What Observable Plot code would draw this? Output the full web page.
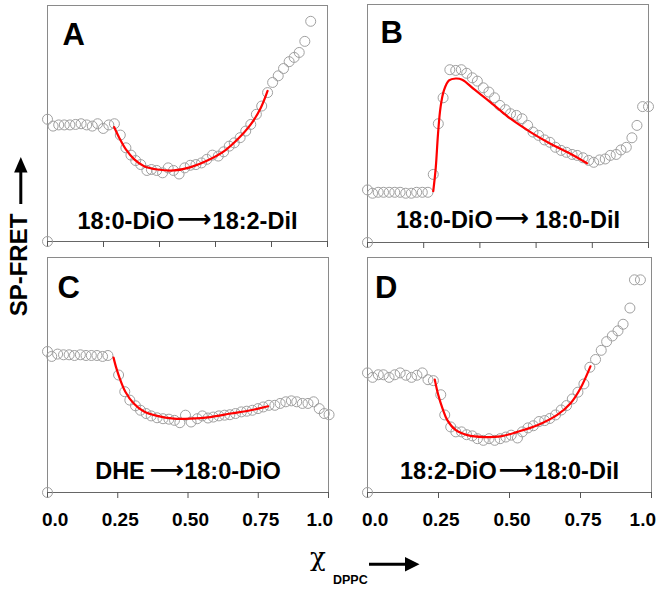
<!DOCTYPE html>
<html><head><meta charset="utf-8">
<script src="https://cdn.jsdelivr.net/npm/d3@7"></script>
<script src="https://cdn.jsdelivr.net/npm/@observablehq/plot@0.6"></script>
<style>
body{margin:0;background:#fff}
#wrap{position:relative;width:657px;height:589px;font-family:"Liberation Sans",Arial,sans-serif}
#wrap > svg{position:absolute;left:0;top:0}
</style></head><body><div id="wrap"></div>
<script>
// ---- data (x = χ DPPC, y = SP-FRET, arbitrary units scaled 0..1 per panel) ----
const pointsA = [[0,0],[0,0.518],[0.020,0.489],[0.040,0.494],[0.060,0.494],[0.080,0.494],[0.100,0.496],[0.120,0.499],[0.140,0.494],[0.160,0.489],[0.179,0.499],[0.199,0.479],[0.219,0.494],[0.239,0.499],[0.260,0.451],[0.280,0.397],[0.298,0.366],[0.315,0.343],[0.333,0.326],[0.355,0.301],[0.371,0.305],[0.390,0.301],[0.411,0.291],[0.431,0.312],[0.450,0.301],[0.470,0.286],[0.490,0.312],[0.510,0.323],[0.530,0.326],[0.550,0.333],[0.569,0.348],[0.589,0.366],[0.610,0.362],[0.629,0.380],[0.649,0.404],[0.667,0.418],[0.688,0.440],[0.708,0.468],[0.726,0.496],[0.746,0.539],[0.765,0.574],[0.786,0.631],[0.804,0.674],[0.824,0.702],[0.843,0.733],[0.863,0.762],[0.881,0.780],[0.899,0.801],[0.919,0.848],[0.940,0.933]];
const fitA = [[0.238,0.485],[0.256,0.440],[0.280,0.390],[0.310,0.348],[0.345,0.319],[0.393,0.305],[0.452,0.301],[0.512,0.315],[0.571,0.343],[0.631,0.383],[0.679,0.433],[0.726,0.496],[0.762,0.567],[0.786,0.638]];

const pointsB = [[0,0],[0,0.221],[0.018,0.207],[0.038,0.211],[0.057,0.211],[0.077,0.211],[0.097,0.211],[0.116,0.211],[0.136,0.207],[0.156,0.207],[0.175,0.211],[0.195,0.211],[0.215,0.211],[0.234,0.286],[0.252,0.499],[0.269,0.608],[0.293,0.726],[0.314,0.723],[0.334,0.726],[0.353,0.711],[0.373,0.692],[0.391,0.678],[0.412,0.650],[0.432,0.632],[0.452,0.608],[0.471,0.576],[0.491,0.558],[0.509,0.541],[0.530,0.534],[0.550,0.520],[0.570,0.492],[0.589,0.464],[0.609,0.450],[0.630,0.431],[0.649,0.421],[0.669,0.400],[0.689,0.387],[0.708,0.379],[0.728,0.370],[0.746,0.366],[0.767,0.356],[0.787,0.345],[0.805,0.337],[0.826,0.347],[0.846,0.351],[0.864,0.366],[0.885,0.370],[0.902,0.389],[0.921,0.400],[0.941,0.440],[0.959,0.492],[0.979,0.571],[1.000,0.571]];
const fitB = [[0.234,0.216],[0.243,0.316],[0.251,0.457],[0.260,0.569],[0.272,0.639],[0.290,0.681],[0.314,0.689],[0.337,0.684],[0.379,0.644],[0.438,0.589],[0.509,0.520],[0.580,0.464],[0.651,0.415],[0.722,0.373],[0.781,0.333]];

const pointsC = [[0,0],[0,0.600],[0.015,0.579],[0.036,0.589],[0.057,0.586],[0.077,0.586],[0.096,0.583],[0.117,0.586],[0.137,0.583],[0.156,0.583],[0.176,0.583],[0.196,0.579],[0.215,0.583],[0.253,0.500],[0.275,0.429],[0.293,0.393],[0.313,0.369],[0.331,0.350],[0.351,0.336],[0.369,0.326],[0.390,0.318],[0.411,0.314],[0.432,0.312],[0.452,0.307],[0.471,0.297],[0.491,0.329],[0.511,0.300],[0.533,0.314],[0.551,0.326],[0.571,0.317],[0.590,0.321],[0.610,0.326],[0.630,0.329],[0.649,0.331],[0.669,0.336],[0.690,0.343],[0.709,0.346],[0.729,0.350],[0.749,0.357],[0.768,0.364],[0.788,0.371],[0.809,0.371],[0.828,0.379],[0.848,0.386],[0.868,0.390],[0.887,0.386],[0.907,0.379],[0.927,0.379],[0.947,0.386],[0.967,0.357],[0.985,0.336],[1.002,0.331]];
const fitC = [[0.235,0.574],[0.245,0.529],[0.257,0.486],[0.277,0.429],[0.307,0.379],[0.342,0.346],[0.390,0.326],[0.449,0.314],[0.509,0.314],[0.580,0.321],[0.652,0.336],[0.723,0.350],[0.785,0.367]];

const pointsD = [[0,0],[0,0.509],[0.018,0.490],[0.038,0.501],[0.056,0.501],[0.076,0.490],[0.096,0.501],[0.115,0.509],[0.135,0.499],[0.155,0.490],[0.174,0.499],[0.193,0.509],[0.213,0.480],[0.232,0.476],[0.258,0.416],[0.272,0.330],[0.293,0.279],[0.311,0.258],[0.331,0.258],[0.349,0.246],[0.369,0.241],[0.387,0.229],[0.408,0.222],[0.428,0.229],[0.448,0.222],[0.467,0.229],[0.487,0.236],[0.506,0.244],[0.528,0.232],[0.545,0.258],[0.565,0.275],[0.584,0.284],[0.604,0.302],[0.624,0.306],[0.642,0.315],[0.662,0.330],[0.682,0.351],[0.701,0.370],[0.721,0.398],[0.741,0.427],[0.762,0.462],[0.783,0.533],[0.803,0.566],[0.823,0.605],[0.842,0.642],[0.862,0.666],[0.882,0.688],[0.900,0.716],[0.924,0.785],[0.940,0.905],[0.961,0.905]];
const fitD = [[0.237,0.480],[0.249,0.416],[0.264,0.358],[0.281,0.308],[0.311,0.265],[0.352,0.244],[0.410,0.236],[0.469,0.239],[0.528,0.258],[0.598,0.286],[0.668,0.330],[0.715,0.380],[0.750,0.444],[0.785,0.537]];

const ticksTop = [0, 0.2, 0.4, 0.6, 0.8, 1.0];
const ticksBottom = [0, 0.25, 0.5, 0.75, 1.0];
const tickLabels = ["0.0", "0.25", "0.50", "0.75", "1.0"];
const panelIds = ["A", "B", "C", "D"];
const panelTexts = ["18:0-DiO\u219218:2-DiI", "18:0-DiO\u219218:0-DiI", "DHE\u219218:0-DiO", "18:2-DiO\u219218:0-DiI"];

// ---- layout ----
const W = 657, H = 589;
const layout = [
  {box: [47, 327, 5, 241], letter: [15, 17.5], textDy: -13, gaps: [3, 1], ticks: ticksTop, labels: false, pts: pointsA, fit: fitA},
  {box: [367, 648, 4, 242], letter: [13, 16.5], textDy: -15, gaps: [2, 6], ticks: ticksTop, labels: false, pts: pointsB, fit: fitB},
  {box: [47, 328, 257, 492], letter: [10, 18.5], textDy: -13.5, gaps: [5, 0], ticks: ticksBottom, labels: true, pts: pointsC, fit: fitC},
  {box: [367, 651, 257, 492], letter: [7.5, 18], textDy: -13.5, gaps: [2, 1], ticks: ticksBottom, labels: true, pts: pointsD, fit: fitD}
];

const wrap = document.getElementById("wrap");
const tl = ticksBottom.map((v, i) => ({v, t: tickLabels[i]}));

layout.forEach((p, i) => {
  const [l, r, t, b] = p.box;
  const marks = [
    Plot.frame({stroke: "#8a8a8a"}),
    Plot.ruleY([0], {stroke: "#666"}),
    Plot.axisX({ticks: p.ticks, tickSize: 6, tickFormat: () => "", label: null, stroke: "#555"}),
    Plot.dot(p.pts, {x: d => d[0], y: d => d[1], r: 5, stroke: "#a0a0a0", strokeWidth: 1, fill: "none"}),
    Plot.line(p.fit, {x: d => d[0], y: d => d[1], stroke: "#ff0000", strokeWidth: 2.2, curve: "catmull-rom"}),
    Plot.text([panelIds[i]], {frameAnchor: "top-left", text: d => d, dx: p.letter[0], dy: p.letter[1], lineAnchor: "top", textAnchor: "start", fontSize: 31, fontWeight: "bold", fill: "#000"}),
    Plot.text([panelTexts[i]], {frameAnchor: "bottom", text: d => d, dy: p.textDy, lineAnchor: "bottom", fontSize: 23.5, fontWeight: "bold", fill: "#000"})
  ];
  if (p.labels) {
    const common = {x: "v", y: () => 0, text: "t", lineAnchor: "bottom", dy: 33, fontSize: 19, fontWeight: "bold", fill: "#000"};
    marks.push(
      Plot.text(tl.slice(0, 1), {...common, textAnchor: "start", dx: -5.5}),
      Plot.text(tl.slice(1, 4), {...common, textAnchor: "middle", dx: 2.5}),
      Plot.text(tl.slice(4), {...common, textAnchor: "end", dx: 4.5})
    );
  }
  const chart = Plot.plot({
    width: W, height: H,
    marginLeft: l, marginRight: W - r, marginTop: t, marginBottom: H - b,
    x: {domain: [0, 1], axis: null},
    y: {domain: [0, 1], axis: null},
    style: {background: "transparent", overflow: "visible", fontFamily: "'Liberation Sans', Arial, sans-serif"},
    marks
  });
  // render the arrow of each label as a long arrow glyph
  d3.select(chart).selectAll("text").each(function() {
    const s = this.textContent;
    if (!s.includes("\u2192")) return;
    const [a, c] = s.split("\u2192");
    const sel = d3.select(this).text(null);
    sel.append("tspan").text(a);
    sel.append("tspan").attr("dx", p.gaps[0]).attr("dy", -1.5).attr("font-family", "'DejaVu Sans'").attr("font-weight", "bold").attr("font-size", 24).text("\u27F6");
    sel.append("tspan").attr("dx", p.gaps[1]).attr("dy", 1.5).text(c);
  });
  wrap.appendChild(chart);
});

// ---- axis titles with arrows ----
const ov = d3.create("svg").attr("width", W).attr("height", H)
  .style("font-family", "'Liberation Sans', Arial, sans-serif");
ov.append("text").attr("transform", "translate(26.5,265) rotate(-90)")
  .attr("text-anchor", "middle").attr("font-size", 24).attr("font-weight", "bold").text("SP-FRET");
ov.append("line").attr("x1", 20.8).attr("x2", 20.8).attr("y1", 204).attr("y2", 170).attr("stroke", "#000").attr("stroke-width", 3);
ov.append("path").attr("d", "M20.8,157 L27.5,172.5 L14.1,172.5 Z").attr("fill", "#000");
ov.append("text").attr("x", 310).attr("y", 566).attr("font-family", "'DejaVu Serif', serif").attr("font-size", 26).text("\u03C7");
ov.append("text").attr("x", 333).attr("y", 584).attr("font-size", 12.5).attr("font-weight", "bold").text("DPPC");
ov.append("line").attr("x1", 369).attr("x2", 407).attr("y1", 564.3).attr("y2", 564.3).attr("stroke", "#000").attr("stroke-width", 3);
ov.append("path").attr("d", "M405,557 L419.5,564.3 L405,571.6 Z").attr("fill", "#000");
wrap.appendChild(ov.node());
</script></body></html>
